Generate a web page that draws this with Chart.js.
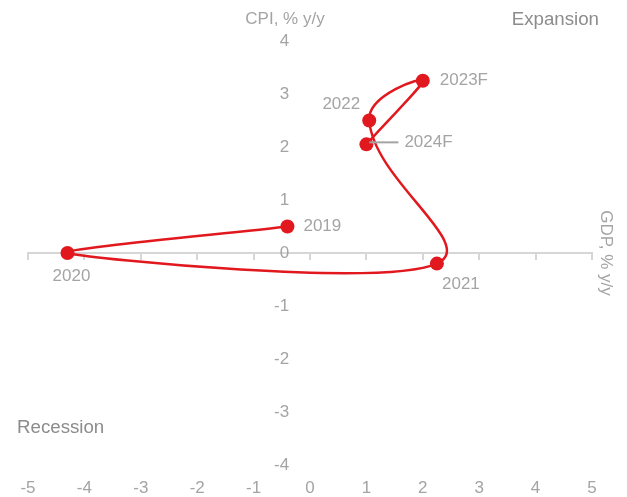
<!DOCTYPE html>
<html><head><meta charset="utf-8">
<script src="https://cdn.jsdelivr.net/npm/chart.js@4/dist/chart.umd.min.js"></script>
<style>html,body{margin:0;padding:0;background:#fff}canvas{display:block}</style>
</head><body>
<canvas id="c" width="627" height="497"></canvas>
<script>
// ---- data ----
const years = ['2019', '2020', '2021', '2022', '2023F', '2024F'];
const gdp = [-0.4, -4.3, 2.25, 1.05, 2.0, 1.0];
const cpi = [0.5, 0.0, -0.2, 2.5, 3.25, 2.05];
const xTickValues = [-5, -4, -3, -2, -1, 0, 1, 2, 3, 4, 5];
const yTickValues = [-4, -3, -2, -1, 0, 1, 2, 3, 4];
const xTitle = 'GDP, % y/y';
const yTitle = 'CPI, % y/y';
const quadrantLabels = ['Expansion', 'Recession'];

// ---- styles ----
const RED = '#e2181f';
const TICK_GREY = '#a4a4a4';
const DARK_GREY = '#8c8c8c';
const AXIS_GREY = '#d6d6d6';
const FONT = '"Liberation Sans", Arial, sans-serif';
const labelPlacement = [
  {dx: 16, dy: 0, align: 'left'},
  {dx: 4, dy: 23, align: 'center'},
  {dx: 24, dy: 21, align: 'center'},
  {dx: -9, dy: -16, align: 'right'},
  {dx: 17, dy: 0, align: 'left'},
  {dx: 38, dy: -2, align: 'left', leader: true}
];

const points = gdp.map((g, i) => ({x: g, y: cpi[i]}));
// the curve is drawn in two overlapping passes (bottom loop / upper hook)
const lowerPath = points.slice(0, 4);   // 2019..2022, segments 2019-2020-2021 shown
const upperPath = points.slice(1);      // 2020..2024F, segments from 2021 onward shown
const HIDDEN = 'rgba(0,0,0,0)';

const annotate = {
  id: 'annotate',
  afterDatasetsDraw(chart) {
    const ctx = chart.ctx;
    const meta = chart.getDatasetMeta(0);
    ctx.save();
    ctx.font = '17px ' + FONT;
    ctx.fillStyle = TICK_GREY;
    ctx.textBaseline = 'middle';
    meta.data.forEach((el, i) => {
      const p = labelPlacement[i];
      if (p.leader) {
        ctx.strokeStyle = TICK_GREY;
        ctx.lineWidth = 2;
        ctx.beginPath();
        ctx.moveTo(el.x + 3, el.y + p.dy);
        ctx.lineTo(el.x + p.dx - 6, el.y + p.dy);
        ctx.stroke();
      }
      ctx.textAlign = p.align;
      ctx.fillText(years[i], el.x + p.dx, el.y + p.dy);
    });
    ctx.restore();
  },
  afterDraw(chart) {
    const ctx = chart.ctx;
    const xs = chart.scales.x, ys = chart.scales.y;
    ctx.save();
    ctx.font = '17px ' + FONT;
    ctx.fillStyle = TICK_GREY;
    ctx.textBaseline = 'middle';
    ctx.textAlign = 'center';
    ctx.fillText(yTitle, xs.getPixelForValue(0) - 25, ys.top - 22);
    ctx.save();
    ctx.translate(xs.right + 14, ys.getPixelForValue(0));
    ctx.rotate(Math.PI / 2);
    ctx.fillText(xTitle, 0, 0);
    ctx.restore();
    ctx.font = '18.7px ' + FONT;
    ctx.fillStyle = DARK_GREY;
    ctx.textAlign = 'right';
    ctx.fillText(quadrantLabels[0], xs.right + 7, ys.top - 21);
    ctx.textAlign = 'left';
    ctx.fillText(quadrantLabels[1], xs.left - 11, ys.getPixelForValue(-3.3));
    ctx.restore();
  }
};

const lineCommon = {
  showLine: true, borderColor: RED, borderWidth: 2.5,
  pointRadius: 0, pointHoverRadius: 0, pointHitRadius: 0
};

new Chart(document.getElementById('c'), {
  type: 'scatter',
  data: {
    datasets: [{
      data: points,
      showLine: false,
      backgroundColor: RED,
      pointBackgroundColor: RED,
      pointBorderColor: RED,
      pointBorderWidth: 0,
      pointRadius: 7,
      pointHoverRadius: 7
    }, Object.assign({
      data: lowerPath,
      tension: 0.26,
      segment: {borderColor: c => c.p0DataIndex >= 2 ? HIDDEN : undefined}
    }, lineCommon), Object.assign({
      data: upperPath,
      tension: 0.47,
      segment: {borderColor: c => c.p0DataIndex < 1 ? HIDDEN : undefined}
    }, lineCommon)]
  },
  options: {
    responsive: false,
    animation: false,
    devicePixelRatio: 1,
    layout: {padding: {left: 28, right: 35, top: 41, bottom: 0}},
    plugins: {legend: {display: false}, tooltip: {enabled: false}},
    scales: {
      x: {
        type: 'linear', position: 'bottom', min: -5, max: 5,
        afterBuildTicks: s => { s.ticks = xTickValues.map(v => ({value: v})); },
        afterFit: s => { s.height = 32; },
        grid: {display: false, drawTicks: false},
        border: {display: false},
        ticks: {color: TICK_GREY, font: {family: FONT, size: 17}, padding: 13, maxRotation: 0}
      },
      xline: {
        type: 'linear', axis: 'x', position: {y: 0}, min: -5, max: 5,
        afterBuildTicks: s => { s.ticks = xTickValues.map(v => ({value: v})); },
        grid: {drawOnChartArea: false, drawTicks: true, tickLength: 6, color: AXIS_GREY, lineWidth: 2},
        border: {display: true, color: AXIS_GREY, width: 2},
        ticks: {display: false}
      },
      y: {
        type: 'linear', position: {x: -0.37}, min: -4, max: 4,
        afterBuildTicks: s => { s.ticks = yTickValues.map(v => ({value: v})); },
        grid: {display: false, drawTicks: false},
        border: {display: false},
        ticks: {color: TICK_GREY, font: {family: FONT, size: 17}, padding: 0}
      }
    }
  },
  plugins: [annotate]
});
</script>
</body></html>
